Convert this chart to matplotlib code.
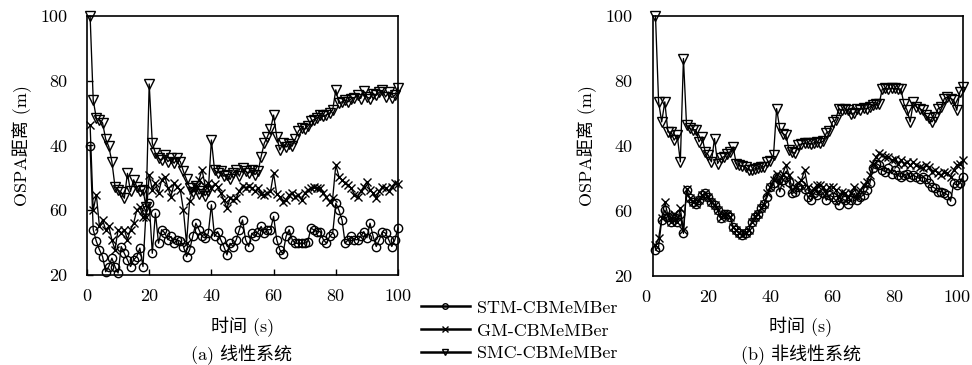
import numpy as np
import matplotlib
matplotlib.use("Agg")
import matplotlib.pyplot as plt
from matplotlib.lines import Line2D
from matplotlib.transforms import blended_transform_factory

plt.rcParams['font.family'] = ['cmr10', 'Noto Sans CJK SC', 'DejaVu Sans']
plt.rcParams['axes.unicode_minus'] = False
plt.rcParams['axes.formatter.use_mathtext'] = True

# ---------------- data ----------------
series_names = ["STM-CBMeMBer", "GM-CBMeMBer", "SMC-CBMeMBer"]
xtick_values = [0, 20, 40, 60, 80, 100]
xtick_labels = ["0", "20", "40", "60", "80", "100"]
ytick_values = [20, 40, 60, 80, 100]
ytick_labels = ["20", "60", "40", "80", "100"]
xlabel_text = "时间 (s)"
ylabel_text = "OSPA距离 (m)"
caption_a = "(a) 线性系统"
caption_b = "(b) 非线性系统"

time_a = np.arange(1, 101)
stm_a = [59.7, 34, 30.4, 27.8, 25.7, 21, 22.6, 25.2, 22.6, 20.6,
         28.8, 26.7, 24.7, 22.6, 24.7, 25.7, 28.3, 22.6, 40, 42.2,
         26.7, 39.1, 29.8, 34, 33, 30.9, 31.9, 29.8, 30.9, 30.4,
         28.8, 25.7, 27.8, 31.9, 36, 34, 31.9, 31.4, 32.9, 41.7,
         31.9, 33.4, 30.9, 28.8, 26.2, 29.8, 28.8, 30.9, 34, 37,
         30.9, 28.8, 32.9, 31.9, 33.4, 35, 32.9, 34, 34, 38.1,
         30.9, 27.8, 26.5, 31.9, 34, 30.9, 29.8, 29.8, 29.8, 29.8,
         30.3, 34.5, 33.9, 33.4, 33.4, 30.9, 29.8, 31.9, 32.9, 42.2,
         40, 37, 29.8, 30.9, 31.9, 30.9, 30.9, 31.9, 33.4, 31.5,
         36, 31.9, 28.8, 30.9, 33.4, 32.9, 30.9, 28.8, 30.9, 34.5]
gm_a = [66.4, 40, 44.8, 35, 37, 34, 35, 30.9, 27.8, 34,
        33, 34, 30.9, 34, 36, 40, 41, 38, 38, 51,
        46.3, 48.4, 45.3, 49.4, 50.4, 47, 44.2, 48.4, 47.3, 46.3,
        40, 29.8, 43, 46.3, 47.5, 49.4, 52.5, 47.5, 48.4, 47,
        48, 47.3, 45.3, 43.2, 40.6, 43.7, 43.2, 43.7, 46, 47.5,
        47, 47.5, 46.8, 45.8, 47, 45, 44.8, 45.3, 45.8, 51.4,
        45, 44.2, 42.7, 43.2, 44.8, 45.3, 44.2, 44.8, 43.2, 45.3,
        46.3, 46.8, 47.3, 47, 46.8, 45.3, 44.2, 42.7, 43.7, 54,
        50.4, 49.4, 48.4, 47.8, 46.8, 44.8, 44.2, 45.8, 47.3, 48.8,
        46.3, 45.3, 43.7, 45.8, 47.3, 46.8, 45.8, 47.3, 48.4, 48]
smc_a = [100, 74, 68.4, 68, 67, 62, 59.7, 55, 47.3, 46.3,
         45.5, 43.7, 51.4, 45.8, 49.4, 47.3, 45.8, 46.3, 41, 79,
         60.7, 57.6, 56, 55.5, 57, 55, 56, 54.5, 56, 55,
         52, 49.5, 47, 45.5, 47.5, 45, 46, 44.5, 46, 61.7,
         52.5, 51.5, 52, 50.5, 51, 49.5, 51.5, 52.5, 50.5, 53,
         52, 51.5, 52.5, 51, 52, 56.6, 60.7, 62.7, 65, 69.4,
         62.7, 58.6, 60.7, 59.5, 60.5, 59.8, 62, 64.5, 65.5, 65,
         66, 67.5, 68, 68.5, 69.5, 69, 69.5, 70, 71, 77.2,
         73, 73.5, 74, 73.5, 74.5, 74.8, 75.5, 74.5, 76.8, 75,
         74.5, 76, 75.5, 76.5, 77, 75, 76.5, 74.8, 75.5, 77.8]

time_b = np.arange(3, 103)
stm_b = [28, 29, 37.2, 40.3, 38.2, 36.7, 38.2, 36.7, 39.2, 33.1,
         46.4, 43.9, 42.8, 42.3, 43.3, 44.9, 45.4, 44.4, 42.8, 41.8,
         40.3, 37.7, 39.2, 39.2, 38.2, 35.1, 34.1, 33.1, 32.6, 33.1,
         34.1, 36.7, 38.2, 39.2, 40.8, 42.3, 44.4, 47.4, 48.5, 50.5,
         45.9, 49.5, 50.5, 49.0, 45.4, 45.9, 47.4, 48.0, 46.9, 44.4,
         43.3, 45.4, 44.9, 46.4, 45.4, 43.3, 44.9, 44.4, 43.3, 41.8,
         43.9, 43.3, 42.3, 43.3, 45.4, 43.3, 44.4, 44.9, 46.4, 48.5,
         53.1, 54.6, 54.1, 52.6, 52.0, 53.1, 51.5, 52.6, 51.0, 50.5,
         51.0, 51.5, 50.5, 51.0, 50.5, 50.0, 50.5, 50.0, 48.5, 47.5,
         47.0, 46.0, 46.0, 45.5, 45.0, 43.0, 48.5, 48.0, 48.5, 50.6]
gm_b = [29.5, 31.6, 37.7, 42.8, 38.7, 36.7, 39.2, 36.7, 40.8, 34.1,
        46.9, 43.9, 42.8, 42.3, 43.3, 44.9, 45.4, 44.4, 42.8, 41.8,
        40.3, 37.7, 39.2, 39.2, 38.2, 35.1, 34.1, 33.1, 32.6, 33.1,
        34.1, 36.7, 38.2, 39.2, 40.8, 42.3, 45.4, 47.4, 49.5, 51.5,
        48.5, 51.5, 54.1, 51.0, 46.4, 47.4, 48.5, 49.5, 52.6, 47.4,
        45.4, 46.9, 48.0, 48.0, 47.4, 45.4, 47.4, 47.4, 46.4, 44.4,
        45.9, 45.4, 44.4, 45.4, 47.4, 44.4, 46.4, 48.0, 49.0, 51.0,
        54.6, 56.7, 57.7, 57.2, 56.7, 56.7, 55.6, 56.1, 54.6, 55.6,
        54.6, 55.1, 54.1, 55.1, 54.1, 53.6, 53.1, 54.1, 53.6, 52.1,
        52.6, 51.6, 51.1, 52.1, 51.6, 50.6, 52.6, 54.1, 54.6, 55.6]
smc_b = [100, 73.6, 67.4, 73.6, 64.3, 64.3, 61.8, 63.3, 55.1, 86.9,
         66.4, 65.5, 65, 65, 61.3, 62.8, 58.2, 57.2, 55.1, 62.3,
         54.6, 56.2, 56.7, 57.5, 58.2, 59.7, 54.6, 54.2, 53.8, 53.5,
         52.6, 52.6, 53, 53.2, 53.6, 53.6, 55, 55.5, 57.2, 71.5,
         65.4, 63.8, 63.3, 58.7, 58.2, 57.8, 60.4, 60.6, 60.8, 61,
         60.6, 61, 61.2, 61, 61.5, 64, 64.5, 67.5, 68, 71.5,
         71, 71.5, 71, 69.8, 70.2, 71.5, 71.2, 71.8, 71.5, 72,
         72.5, 72.8, 73, 77.5, 77.7, 77.5, 77.7, 77.7, 77.6, 77.5,
         73, 71, 67.4, 73.4, 72, 71.5, 71, 69.5, 68.5, 67.4,
         69, 71.5, 72, 74.6, 75, 74.6, 74.2, 71, 76.6, 78.2]

# ---------------- styles ----------------
markers = ['o', 'x', 'v']
msizes = [6, 5.5, 6.5]
FS = 13

fig = plt.figure(figsize=(9.72, 3.65), dpi=100)
ax_a = fig.add_axes([87/972, 1-275/365, 311/972, 259/365])
ax_b = fig.add_axes([653/972, 1-276/365, 310/972, 260/365])

def draw(ax, t, ys):
    for y, m, ms in zip(ys, markers, msizes):
        ax.plot(t, y, color='black', lw=0.95, marker=m, ms=ms,
                mfc='none', mec='black', mew=1.0, clip_on=False)
    ax.set_ylim(20, 100)
    ax.set_yticks(ytick_values)
    ax.set_yticklabels(ytick_labels, fontsize=FS)
    for s in ax.spines.values():
        s.set_linewidth(1.2)
        s.set_color('black')

draw(ax_a, time_a, [stm_a, gm_a, smc_a])
draw(ax_b, time_b, [stm_b, gm_b, smc_b])

# left panel axes
ax_a.set_xlim(0, 100)
ax_a.set_xticks(xtick_values)
ax_a.set_xticklabels(xtick_labels, fontsize=FS)
ax_a.tick_params(axis='both', direction='in', length=4, width=1.0,
                 top=False, right=False)
ax_a.tick_params(axis='x', pad=10)
ax_a.tick_params(axis='y', pad=14)

# right panel axes
ax_b.set_xlim(2.2, 102)
ax_b.set_xticks([])
ax_b.tick_params(axis='y', length=0, pad=15)
trans = blended_transform_factory(ax_b.transData, ax_b.transAxes)
for v, lab in zip(xtick_values, xtick_labels):
    ax_b.text(v, -0.081, lab, transform=trans, ha='center', va='center',
              fontsize=FS, clip_on=False)

# labels
for ax, lx, ly, xx, xy in [(ax_a, -0.209, 0.5, 0.5, -0.20),
                           (ax_b, -0.213, 0.5, 0.477, -0.196)]:
    ax.set_ylabel(ylabel_text, fontsize=FS, va='center')
    ax.yaxis.set_label_coords(lx, ly)
    ax.set_xlabel(xlabel_text, fontsize=FS, va='center')
    ax.xaxis.set_label_coords(xx, xy)

fig.text(241.6/972, 1-355/365, caption_a, ha='center', va='center', fontsize=FS)
fig.text(801/972, 1-355/365, caption_b, ha='center', va='center', fontsize=FS)

# legend
handles = [Line2D([], [], color='black', lw=1.8, marker=m, ms=4,
                  mfc='none', mec='black', mew=1.0) for m in markers]
fig.legend(handles, series_names, loc='upper left',
           bbox_to_anchor=(421/972, 1-300/365), frameon=False,
           fontsize=FS, handlelength=2.7, handletextpad=0.4,
           labelspacing=0.4, borderpad=0, borderaxespad=0, numpoints=1)

fig.savefig("out.png", dpi=100)
